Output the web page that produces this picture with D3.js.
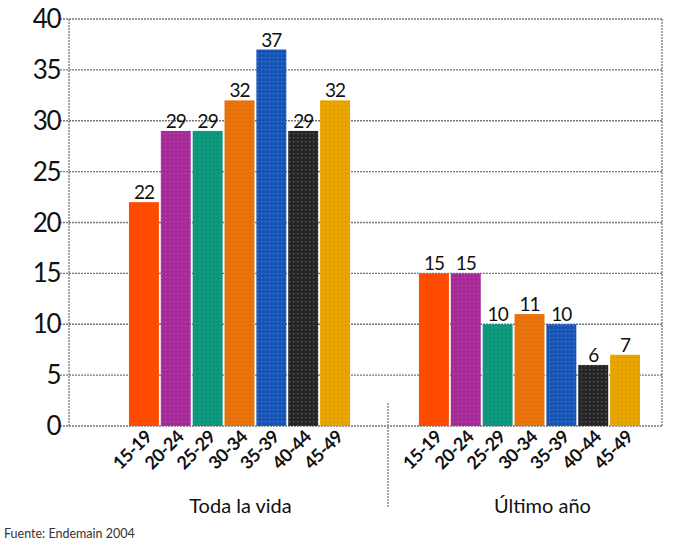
<!DOCTYPE html>
<html>
<head>
<meta charset="utf-8">
<script src="https://cdn.jsdelivr.net/npm/d3@7"></script>
<style>
  body { margin: 0; background: #fff; }
  text { font-family: Lato, "Open Sans", sans-serif; fill: #111; }
</style>
</head>
<body>
<div class="chart"></div>
<script>
// data
var ages = ["15-19", "20-24", "25-29", "30-34", "35-39", "40-44", "45-49"];
var todaLaVida = [22, 29, 29, 32, 37, 29, 32];
var ultimoAno = [15, 15, 10, 11, 10, 6, 7];
var groupLabels = ["Toda la vida", "Último año"];
var yTicks = [0, 5, 10, 15, 20, 25, 30, 35, 40];

var barColors = ["#ff4b00", "#a52a98", "#0f9a80", "#e8740c", "#1653b3", "#262626", "#e9a500"];
var dotColors = ["#ff4b00", "#d04fbf", "#0b7461", "#ff4a1a", "#4f86e0", "#6b6b6b", "#f07a10"];

var width = 687, height = 552;
var svg = d3.select(".chart").append("svg")
    .attr("width", width)
    .attr("height", height);

// dotted texture for the bars
var defs = svg.append("defs");
barColors.forEach(function (c, i) {
    var p = defs.append("pattern")
        .attr("id", "pat" + i)
        .attr("width", 4).attr("height", 4)
        .attr("patternUnits", "userSpaceOnUse");
    p.append("rect").attr("width", 4).attr("height", 4).attr("fill", c);
    p.append("rect").attr("x", 1).attr("y", 1).attr("width", 1.3).attr("height", 1.3)
        .attr("fill", dotColors[i]).attr("opacity", i === 0 ? 0 : 0.8);
});

// plot box
var pLeft = 69, pRight = 662, pTop = 19, pBottom = 426;

var y = d3.scaleLinear().domain([0, 40]).range([pBottom, pTop]);

var x1 = d3.scaleBand().domain(ages).range([128, 351]).paddingInner(0.06).paddingOuter(0.03);
var x2 = d3.scaleBand().domain(ages).range([418, 641]).paddingInner(0.06).paddingOuter(0.03);

var grid = svg.append("g");
var dash = "2,1";

// gridlines
grid.selectAll("line.h")
    .data(yTicks)
    .enter()
    .append("line")
    .attr("x1", pLeft - 9)
    .attr("x2", pRight)
    .attr("y1", d => y(d))
    .attr("y2", d => y(d))
    .attr("stroke", "#777")
    .attr("stroke-width", 1.3)
    .attr("stroke-dasharray", dash);

// left axis + right border
grid.append("line").attr("x1", pLeft).attr("x2", pLeft).attr("y1", y(40)).attr("y2", y(0))
    .attr("stroke", "#777").attr("stroke-width", 1.3).attr("stroke-dasharray", dash);
grid.append("line").attr("x1", pRight).attr("x2", pRight).attr("y1", y(40)).attr("y2", y(0))
    .attr("stroke", "#777").attr("stroke-width", 1.3).attr("stroke-dasharray", dash);

// divider between groups
grid.append("line").attr("x1", 388).attr("x2", 388).attr("y1", 403).attr("y2", 508)
    .attr("stroke", "#777").attr("stroke-width", 1.3).attr("stroke-dasharray", dash);

// y tick labels
svg.append("g").selectAll("text")
    .data(yTicks)
    .enter()
    .append("text")
    .attr("x", 60)
    .attr("y", d => y(d) + 9)
    .attr("text-anchor", "end")
    .attr("font-size", 26)
    .attr("letter-spacing", -1.5)
    .text(d => d);

function drawGroup(values, x, label, labelShift) {
    var g = svg.append("g");
    g.selectAll("rect")
        .data(values)
        .enter()
        .append("rect")
        .attr("x", (d, i) => x(ages[i]))
        .attr("width", x.bandwidth())
        .attr("y", d => y(d))
        .attr("height", d => y(0) - y(d))
        .attr("fill", (d, i) => "url(#pat" + i + ")");

    g.selectAll("text.val")
        .data(values)
        .enter()
        .append("text")
        .attr("class", "val")
        .attr("x", (d, i) => x(ages[i]) + x.bandwidth() / 2)
        .attr("y", d => y(d) - 3)
        .attr("text-anchor", "middle")
        .attr("font-size", 19)
        .attr("letter-spacing", -1)
        .text(d => d);

    g.selectAll("text.age")
        .data(ages)
        .enter()
        .append("text")
        .attr("class", "age")
        .attr("transform", d => "translate(" + (x(d) + x.bandwidth() / 2 + 9) + "," + (pBottom + 12) + ") rotate(-45)")
        .attr("text-anchor", "end")
        .attr("font-size", 18)
        .attr("font-weight", "bold")
        .attr("letter-spacing", -0.5)
        .text(d => d);

    var r = x.range();
    g.append("text")
        .attr("x", (r[0] + r[1]) / 2 + labelShift)
        .attr("y", 513)
        .attr("text-anchor", "middle")
        .attr("font-size", 20)
        .text(label);
}

drawGroup(todaLaVida, x1, groupLabels[0], 1);
drawGroup(ultimoAno, x2, groupLabels[1], 13);

svg.append("text")
    .attr("x", 4)
    .attr("y", 538)
    .attr("font-size", 12.5)
    .style("fill", "#333")
    .text("Fuente: Endemain 2004");
</script>
</body>
</html>
